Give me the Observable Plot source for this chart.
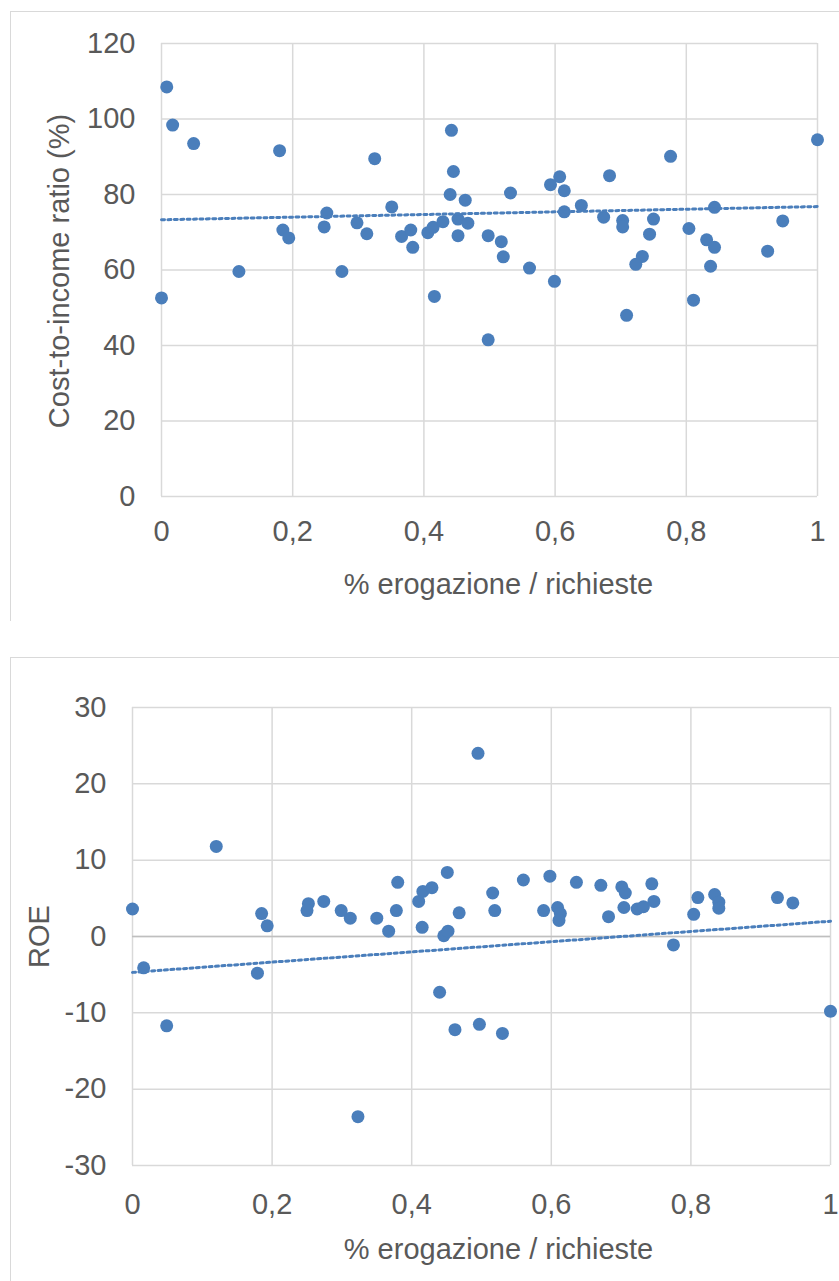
<!DOCTYPE html>
<html>
<head>
<meta charset="utf-8">
<script src="https://cdn.jsdelivr.net/npm/d3@7"></script>
<script src="https://cdn.jsdelivr.net/npm/@observablehq/plot@0.6"></script>
<style>
  html, body { margin: 0; padding: 0; background: #fff; width: 839px; height: 1281px; overflow: hidden; }
  #wrap { position: relative; width: 839px; height: 1281px; overflow: hidden; }
  .panel { position: absolute; left: 0; width: 839px; }
  .frame { position: absolute; border-left: 1.5px solid #d9d9d9; border-top: 1.5px solid #d9d9d9; width: 1000px; }
</style>
</head>
<body>
<div id="wrap">
  <div class="frame" style="left:10px; top:11px; height:609px;"></div>
  <div class="frame" style="left:10px; top:657px; height:700px;"></div>
  <div class="panel" id="c1" style="top:0px;"></div>
  <div class="panel" id="c2" style="top:620px;"></div>
</div>
<script>
// ---- Data: chart 1 (Cost-to-income ratio vs % erogazione / richieste) ----
const cirX = [0.008,0.017,0.049,0.180,0.325,0.442,0.445,0.440,0.463,0.252,0.351,0.248,0.298,0.313,0.185,0.194,0.366,0.380,0.383,0.406,0.414,0.429,0.452,0.467,0.452,0.118,0.275,0.000,0.416,1.000,0.776,0.683,0.607,0.593,0.614,0.532,0.640,0.843,0.614,0.674,0.703,0.703,0.750,0.947,0.804,0.744,0.831,0.843,0.924,0.733,0.723,0.837,0.498,0.518,0.521,0.561,0.599,0.811,0.709,0.498];
const cirY = [108.5,98.4,93.5,91.6,89.5,97.0,86.1,80.0,78.5,75.1,76.7,71.4,72.5,69.6,70.6,68.5,68.9,70.6,66.0,69.9,71.3,72.8,73.5,72.4,69.1,59.6,59.6,52.6,53.0,94.5,90.1,85.0,84.7,82.6,81.0,80.4,77.1,76.6,75.4,74.0,73.1,71.4,73.5,73.0,71.0,69.5,68.0,66.0,65.0,63.6,61.5,61.0,69.1,67.5,63.5,60.5,57.0,52.0,48.0,41.5];
const cirTrendX = [0, 1];
const cirTrendY = [73.3, 76.8];

// ---- Data: chart 2 (ROE vs % erogazione / richieste) ----
const roeX = [0.495,0.120,0.000,0.185,0.193,0.252,0.250,0.274,0.299,0.312,0.380,0.350,0.378,0.367,0.410,0.416,0.429,0.451,0.415,0.446,0.452,0.468,0.016,0.179,0.440,0.049,0.462,0.323,0.497,0.516,0.519,0.560,0.598,0.589,0.609,0.613,0.611,0.636,0.671,0.682,0.701,0.706,0.704,0.723,0.732,0.744,0.747,0.775,0.810,0.804,0.834,0.840,0.840,0.924,0.946,1.000,0.530];
const roeY = [24.0,11.8,3.6,3.0,1.4,4.3,3.4,4.6,3.4,2.4,7.1,2.4,3.4,0.7,4.6,5.9,6.4,8.4,1.2,0.1,0.7,3.1,-4.1,-4.8,-7.3,-11.7,-12.2,-23.6,-11.5,5.7,3.4,7.4,7.9,3.4,3.8,3.0,2.1,7.1,6.7,2.6,6.5,5.7,3.8,3.6,3.9,6.9,4.6,-1.1,5.1,2.9,5.5,4.5,3.7,5.1,4.4,-9.8,-12.7];
const roeTrendX = [0, 1];
const roeTrendY = [-4.7, 2.0];

// ---- Tick values and labels ----
const xTicks = [0, 0.2, 0.4, 0.6, 0.8, 1];
const cirTicks = [0, 20, 40, 60, 80, 100, 120];
const roeTicks = [-30, -20, -10, 0, 10, 20, 30];
const xTitle = "% erogazione / richieste";
const cirTitle = "Cost-to-income ratio (%)";
const roeTitle = "ROE";

const TEXT = "#595959";
const GRID = "#d9d9d9";
const BLUE = "#4a7ebb";
const FONT = "'Liberation Sans', Arial, sans-serif";
const FS = 29;
const fmtX = d => String(d).replace(".", ",");

const pts1 = cirX.map((x, i) => ({x, y: cirY[i]}));
const tr1 = cirTrendX.map((x, i) => ({x, y: cirTrendY[i]}));
const pts2 = roeX.map((x, i) => ({x, y: roeY[i]}));
const tr2 = roeTrendX.map((x, i) => ({x, y: roeTrendY[i]}));

const chart1 = Plot.plot({
  width: 839, height: 620,
  marginTop: 43, marginBottom: 124, marginLeft: 161, marginRight: 22,
  style: {fontFamily: FONT, fontSize: FS + "px", color: TEXT, background: "transparent"},
  x: {domain: [0, 1]},
  y: {domain: [0, 120]},
  marks: [
    Plot.gridX(xTicks, {stroke: GRID, strokeOpacity: 1, strokeWidth: 1.5}),
    Plot.gridY(cirTicks, {stroke: GRID, strokeOpacity: 1, strokeWidth: 1.5}),
    Plot.axisX(xTicks, {tickSize: 0, tickPadding: 24, tickFormat: fmtX, label: null, fill: TEXT}),
    Plot.axisY(cirTicks, {tickSize: 0, tickPadding: 26, tickFormat: d => String(d), label: null, fill: TEXT}),
    Plot.dot(pts1, {x: "x", y: "y", r: 6.5, fill: BLUE, stroke: "none"}),
    Plot.line(tr1, {x: "x", y: "y", stroke: BLUE, strokeWidth: 3, strokeDasharray: "3,3.4"}),
    Plot.text([xTitle], {text: d => d, frameAnchor: "bottom", dx: 9, dy: 88, lineAnchor: "middle", textAnchor: "middle", fill: TEXT, fontSize: FS}),
    Plot.text([cirTitle], {text: d => d, frameAnchor: "left", dx: -102, dy: 1, rotate: -90, lineAnchor: "middle", textAnchor: "middle", fill: TEXT, fontSize: FS})
  ]
});
document.getElementById("c1").appendChild(chart1);

const chart2 = Plot.plot({
  width: 839, height: 661,
  marginTop: 87, marginBottom: 116, marginLeft: 132, marginRight: 9,
  style: {fontFamily: FONT, fontSize: FS + "px", color: TEXT, background: "transparent"},
  x: {domain: [0, 1]},
  y: {domain: [-30, 30]},
  marks: [
    Plot.gridX(xTicks, {stroke: GRID, strokeOpacity: 1, strokeWidth: 1.5}),
    Plot.gridY(roeTicks, {stroke: GRID, strokeOpacity: 1, strokeWidth: 1.5}),
    Plot.ruleY([0], {stroke: "#bfbfbf", strokeWidth: 1.5}),
    Plot.axisX(xTicks, {tickSize: 0, tickPadding: 28, tickFormat: fmtX, label: null, fill: TEXT}),
    Plot.axisY(roeTicks, {tickSize: 0, tickPadding: 26, tickFormat: d => String(d), label: null, fill: TEXT}),
    Plot.dot(pts2, {x: "x", y: "y", r: 6.5, fill: BLUE, stroke: "none"}),
    Plot.line(tr2, {x: "x", y: "y", stroke: BLUE, strokeWidth: 3, strokeDasharray: "3,3.4"}),
    Plot.text([xTitle], {text: d => d, frameAnchor: "bottom", dx: 17, dy: 84, lineAnchor: "middle", textAnchor: "middle", fill: TEXT, fontSize: FS}),
    Plot.text([roeTitle], {text: d => d, frameAnchor: "left", dx: -93, dy: 0, rotate: -90, lineAnchor: "middle", textAnchor: "middle", fill: TEXT, fontSize: FS})
  ]
});
document.getElementById("c2").appendChild(chart2);
</script>
</body>
</html>
